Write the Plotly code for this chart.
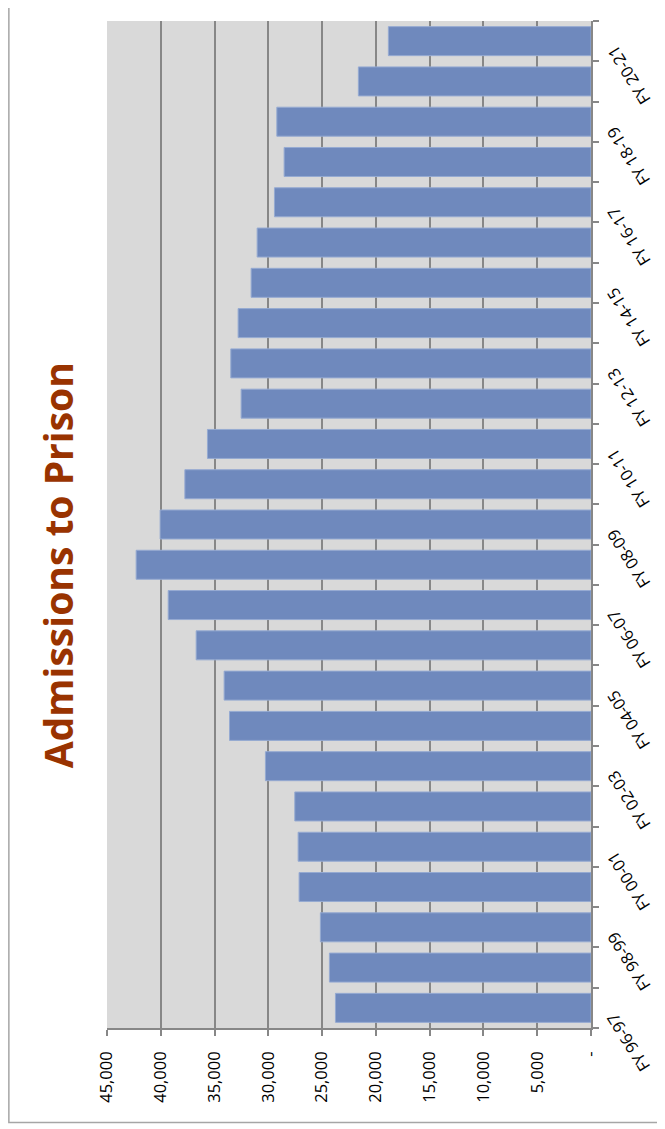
import plotly.graph_objects as go

categories = ["FY 96-97", "FY 97-98", "FY 98-99", "FY 99-00", "FY 00-01", "FY 01-02",
              "FY 02-03", "FY 03-04", "FY 04-05", "FY 05-06", "FY 06-07", "FY 07-08",
              "FY 08-09", "FY 09-10", "FY 10-11", "FY 11-12", "FY 12-13", "FY 13-14",
              "FY 14-15", "FY 15-16", "FY 16-17", "FY 17-18", "FY 18-19", "FY 19-20",
              "FY 20-21"]
admissions = [23760, 24320, 25160, 27140, 27230, 27540, 30270, 33610, 34110, 36710,
              39310, 42290, 40060, 37760, 35660, 32530, 33490, 32810, 31600, 31040,
              29430, 28530, 29210, 21630, 18840]
value_ticks = [0, 5000, 10000, 15000, 20000, 25000, 30000, 35000, 40000, 45000]
value_tick_labels = ["-", "5,000", "10,000", "15,000", "20,000", "25,000", "30,000",
                     "35,000", "40,000", "45,000"]
labeled_categories = categories[::2]
title_text = "Admissions to Prison"

# page body has an 8px default margin; work in screen pixels and shift
OFF = 8
W, H = 665, 1129
SL, SR, ST, SB = 106.7, 591, 21, 1028   # plot area edges in screen pixels
L = SL - OFF
T = ST - OFF
R = W - (SR - OFF)
B = H - (SB - OFF)
FONT = "Open Sans"

fig = go.Figure()
fig.add_trace(go.Bar(
    x=admissions, y=categories, orientation="h",
    marker=dict(color="#6F89BD", line=dict(color="#95AAD2", width=1)),
    hoverinfo="skip",
))

axis_gray = "#878787"
fig.update_layout(
    width=W, height=H,
    margin=dict(l=L, r=R, t=T, b=B, pad=0, autoexpand=False),
    paper_bgcolor="white", plot_bgcolor="#D9D9D9",
    bargap=0.28, showlegend=False,
    font=dict(family=FONT, color="black"),
    xaxis=dict(
        range=[45000, 0], tickmode="array", tickvals=value_ticks, ticktext=value_tick_labels,
        tickangle=-90, tickfont=dict(size=16.5, family=FONT, color="black"),
        showgrid=True, gridcolor=axis_gray, gridwidth=1.5,
        showline=True, linecolor=axis_gray, linewidth=1.5,
        ticks="outside", ticklen=6, tickcolor=axis_gray, tickwidth=1.5,
        ticklabelstandoff=9, zeroline=False, fixedrange=True, automargin=False,
    ),
    yaxis=dict(
        type="category", side="right", tickmode="array", tickvals=categories,
        ticktext=["" for _ in categories], tickson="boundaries",
        range=[-0.5, len(categories) - 0.5], autorange=False,
        showgrid=False, showline=True, linecolor=axis_gray, linewidth=1.5,
        ticks="outside", ticklen=6, tickcolor=axis_gray, tickwidth=1.5,
        zeroline=False, fixedrange=True, automargin=False,
    ),
)

pw = W - L - R
ph = H - T - B
def px_x(x):
    return (x - OFF - L) / pw
def px_y(y):
    return 1 - (y - OFF - T) / ph

for cat in labeled_categories:
    fig.add_annotation(text=cat, xref="paper", yref="y", x=px_x(628), y=cat,
                       showarrow=False, textangle=-122, xanchor="center", yanchor="middle",
                       yshift=-34, font=dict(size=16.5, family=FONT, color="black"))

fig.add_shape(type="rect", xref="paper", yref="paper",
              x0=px_x(8.5), x1=px_x(700), y0=px_y(1122.5), y1=px_y(0.5),
              line=dict(color="#A6A6A6", width=1.5), fillcolor="rgba(0,0,0,0)", layer="above")

fig.add_annotation(text="<b>" + title_text + "</b>", xref="paper", yref="paper",
                   x=px_x(57), y=px_y(565), showarrow=False, textangle=-90,
                   font=dict(size=39, family=FONT, color="#993300"),
                   xanchor="center", yanchor="middle")

fig.write_html("out.html")
